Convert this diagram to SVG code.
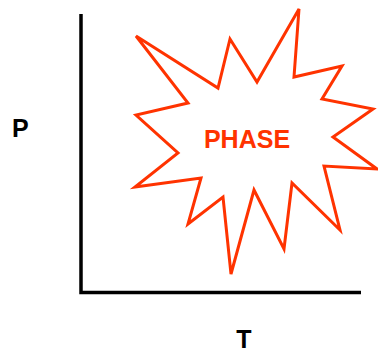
<svg xmlns="http://www.w3.org/2000/svg" width="378" height="354" viewBox="0 0 378 354">
<style>
.axis{stroke:#000;stroke-width:3.5;fill:none}
.star{fill:#fff;stroke:#FF3300;stroke-width:3;stroke-linejoin:miter}
.lbl{font-family:"Liberation Sans",Arial,sans-serif;font-weight:bold;font-size:25px;fill:#000}
.ph{font-family:"Liberation Sans",Arial,sans-serif;font-weight:bold;font-size:25px;fill:#FF3300}
</style>
<rect width="378" height="354" fill="#fff"/>
<g id="connectors">
<polyline class="axis" points="81,14 81,292.5 361,292.5"/>
</g>
<g id="phase">
<polygon class="star" points="136,36 218,88 230,39 257,82 299,9 294,77 342,66 322,99 373,109 333,137 377,169 324,166 340,230 292,183 284,249 254,190 231,274 223,197 188,224 201,178 135,187 178,153 136,115 188,103"/>
<text class="ph" x="247" y="148" text-anchor="middle">PHASE</text>
</g>
<g id="p-label"><text class="lbl" x="12" y="137">P</text></g>
<g id="t-label"><text class="lbl" x="244" y="348" text-anchor="middle">T</text></g>
</svg>
